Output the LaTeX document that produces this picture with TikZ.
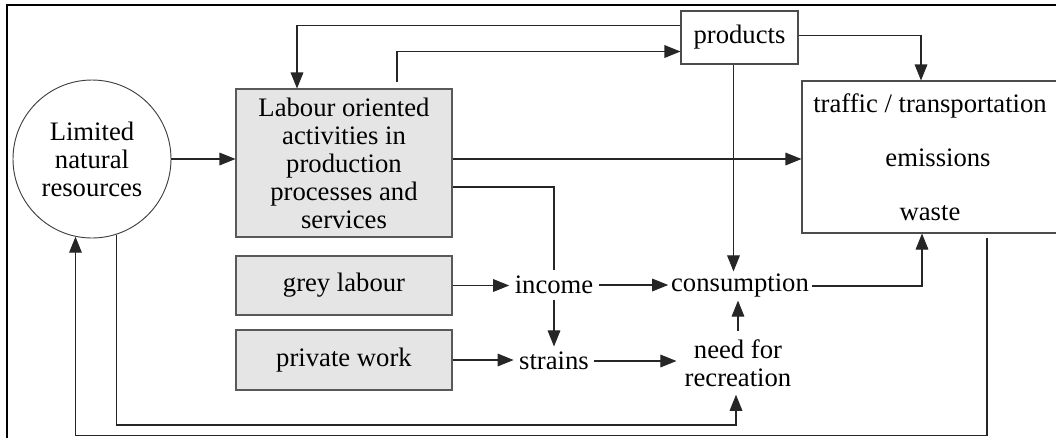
\documentclass[tikz,border=0pt]{standalone}
\usepackage{fontspec}
\setmainfont{Liberation Serif}
\usetikzlibrary{arrows.meta,calc}
\begin{document}
\begin{tikzpicture}[x=0.75pt,y=-0.75pt,
  every node/.style={font=\fontsize{20}{21}\selectfont},
  conn/.style={draw=black!85,line width=0.8pt},
  arr/.style={conn,-{Triangle[length=12pt,width=9.5pt]}},
  work/.style={draw=black!65,fill=black!10,line width=0.8pt,
    minimum width=162pt,align=center,inner sep=0pt},
  plainbox/.style={draw=black!70,line width=0.8pt,align=center,inner sep=0pt},
  lbl/.style={align=center,inner sep=4pt}]
% page and clipping
\useasboundingbox (0,0) rectangle (1056,437);
\fill[white] (0,0) rectangle (1056,437);
\clip (0,0) rectangle (1056,437);
% outer frame
\draw[line width=1.9pt] (7,1000) -- (7,5) -- (1200,5);

% resource circle
\node[circle,draw=black!75,line width=0.7pt,minimum size=118.5pt,inner sep=0pt,align=center]
  (res) at (92,159) {Limited\\natural\\resources};

% labour boxes
\node[work,minimum height=111pt] (labour) at (344,163)
  {Labour oriented\\activities in\\production\\processes and\\services};
\node[work,minimum height=44.25pt] (grey) at (344,285.5) {grey labour};
\node[work,minimum height=45pt] (priv) at (344,360) {private work};

% outputs
\node[plainbox,minimum width=87.75pt,minimum height=39.75pt] (prod) at (739.5,37.5) {products};
\node[plainbox,minimum width=204pt,minimum height=114pt,
  font=\fontsize{20}{40.5}\selectfont] (traffic) at (938,157)
  {traffic / transportation\hspace*{12pt}\\emissions\hspace*{12pt}\\waste\hspace*{12pt}};

% intermediate quantities
\node[lbl] (income) at (554,285) {income};
\node[lbl] (strains) at (554,361) {strains};
\node[lbl,inner sep=2pt] (cons) at (740,286) {consumption};
\node[lbl,inner sep=6pt] (need) at (738,363) {need for\\recreation};

% helper points for the bends
\coordinate (rowA) at (0,425);
\coordinate (rowB) at (0,435.5);
\coordinate (labOut) at ($(labour.east)+(0,24)$);
\coordinate (prodDown) at ($(prod.south)+(-6,0)$);
\coordinate (consUp) at ($(traffic.south)+(-16,0)$);
\coordinate (prodRight) at ($(prod.east)+(0,-2)$);
\coordinate (trafIn) at ($(traffic.north)+(-17,0)$);
\coordinate (prodBack) at ($(prod.west)+(0,-12)$);
\coordinate (labIn) at ($(labour.north)+(-47,0)$);
\coordinate (labUp) at ($(labour.north)+(53,-6)$);
\coordinate (prodIn) at ($(prod.west)+(0,14)$);
\coordinate (needIn) at ($(need.south)+(-2,0)$);
\coordinate (trafOut) at ($(traffic.south)+(49,4)$);

% connectors
\draw[arr] (res) -- (res -| labour.west);
\draw[arr] (labour.east |- res) -- (traffic.west |- res);
\draw[conn] (labOut) -| (income.north);
\draw[arr] (income.south) -- (strains.north);
\draw[arr] (grey.east) -- (grey.east -| income.west);
\draw[arr] (priv.east) -- (priv.east -| strains.west);
\draw[arr] (income.east) -- (income.east -| cons.west);
\draw[arr] (strains.east) -- (strains.east -| need.west);
\draw[arr] (need.north) -- (need.north |- cons.south);
\draw[arr] (prodDown) -- (prodDown |- cons.north);
\draw[arr] (cons.east) -| (consUp);
\draw[arr] (prodRight) -| (trafIn);
\draw[arr] (prodBack) -| (labIn);
\draw[arr] (labUp) |- (prodIn);
\draw[arr] (res.-72) -- (res.-72 |- rowA) -| (needIn);
\draw[arr] (trafOut) -- (trafOut |- rowB) -| (res.-102);
\end{tikzpicture}
\end{document}
